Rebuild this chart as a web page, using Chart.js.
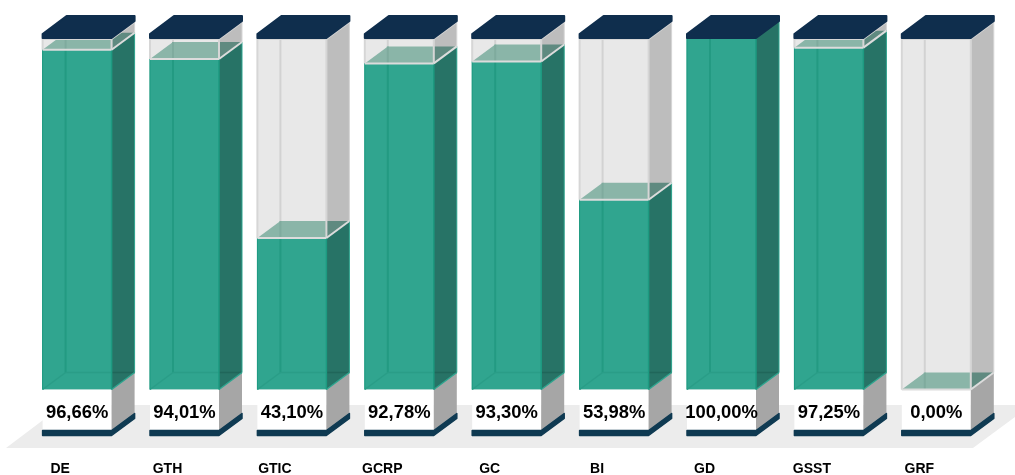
<!DOCTYPE html>
<html>
<head>
<meta charset="utf-8">
<style>
  html, body { margin: 0; padding: 0; background: #fff; }
  canvas { display: block; }
</style>
<script src="https://cdn.jsdelivr.net/npm/chart.js@4"></script>
</head>
<body>
<canvas id="graph" width="1015" height="475"></canvas>
<script>
const categories = ['DE', 'GTH', 'GTIC', 'GCRP', 'GC', 'BI', 'GD', 'GSST', 'GRF'];
const percentages = [96.66, 94.01, 43.10, 92.78, 93.30, 53.98, 100, 97.25, 0];
const fullTube = [100, 100, 100, 100, 100, 100, 100, 100, 100];

// depth of the fake 3d look
const dx = 23;
const dy = 17;

function poly(ctx, pts, fill) {
  ctx.beginPath();
  pts.forEach((p, i) => i ? ctx.lineTo(p[0], p[1]) : ctx.moveTo(p[0], p[1]));
  ctx.closePath();
  ctx.fillStyle = fill;
  ctx.fill();
}

function seg(ctx, x1, y1, x2, y2, color, w) {
  ctx.beginPath();
  ctx.moveTo(x1, y1);
  ctx.lineTo(x2, y2);
  ctx.strokeStyle = color;
  ctx.lineWidth = w;
  ctx.stroke();
}

const tubes3d = {
  id: 'tubes3d',
  // floor, base boxes and the back of the tubes
  beforeDatasetsDraw(chart) {
    const ctx = chart.ctx;
    const y = chart.scales.y;
    const y0 = y.getPixelForValue(0);
    const y100 = y.getPixelForValue(100);
    const bars = chart.getDatasetMeta(0).data;

    ctx.save();
    poly(ctx, [[6, 448], [63, 405], [1015, 405], [1015, 417], [973, 448]], '#ececec');

    bars.forEach(bar => {
      const x = bar.x - bar.width / 2;
      const r = x + bar.width;
      // base
      ctx.fillStyle = '#fff';
      ctx.fillRect(x, y0, bar.width, 41);
      poly(ctx, [[r, y0], [r + dx, y0 - dy], [r + dx, y0 + 25], [r, y0 + 42]], '#a6a6a6');
      // foot
      ctx.lineJoin = 'round';
      ctx.strokeStyle = '#0f3a52';
      ctx.lineWidth = 1.5;
      const foot = [[x, y0 + 41], [r, y0 + 41], [r + dx, y0 + 24], [r + dx, y0 + 29], [r, y0 + 46], [x, y0 + 46]];
      poly(ctx, foot, '#0f3a52');
      ctx.stroke();
      // side of the empty tube
      poly(ctx, [[r, y100], [r + dx, y100 - dy], [r + dx, y0 - dy], [r, y0]], '#bdbdbd');
    });
    ctx.restore();
  },
  // liquid surface, edges and cap
  afterDatasetsDraw(chart) {
    const ctx = chart.ctx;
    const y = chart.scales.y;
    const y0 = y.getPixelForValue(0);
    const y100 = y.getPixelForValue(100);
    const bars = chart.getDatasetMeta(0).data;

    ctx.save();
    bars.forEach((bar, i) => {
      const x = bar.x - bar.width / 2;
      const r = x + bar.width;
      const yv = y.getPixelForValue(percentages[i]);

      // empty tube back lines
      seg(ctx, x + dx, y100, x + dx, yv - dy, '#d2d2d2', 2);

      // liquid side
      poly(ctx, [[r, yv], [r + dx, yv - dy], [r + dx, y0 - dy], [r, y0]], '#277366');

      // liquid surface
      poly(ctx, [[x, yv], [x + dx, yv - dy], [r, yv - dy], [r, yv]], '#8ab5a8');
      poly(ctx, [[r, yv], [r + dx, yv - dy], [r, yv - dy]], '#5f8a80');
      seg(ctx, x + dx, yv - dy, x + dx, yv, '#7fab9e', 2);

      // tube edges over the empty part
      if (percentages[i] < 100) {
        seg(ctx, x, y100, x, yv, '#d6d6d6', 2);
        seg(ctx, r, y100, r, yv, '#d6d6d6', 2);
        seg(ctx, r + dx, y100 - dy, r + dx, yv - dy, '#d6d6d6', 1);
        seg(ctx, x, y100 + 1, r, y100 + 1, '#d6d6d6', 2);
        seg(ctx, r, y100 + 1, r + dx, y100 - dy + 1, '#d6d6d6', 2);
      }

      // liquid lines
      if (percentages[i] > 0) {
        seg(ctx, x + dx, yv, x + dx, y0 - dy, '#239a82', 2);
        seg(ctx, x, y0, x + dx, y0 - dy, '#2a9d87', 1.5);
        seg(ctx, x + dx, y0 - dy, r, y0 - dy, '#2a9d87', 1.5);
        seg(ctx, r, y0 - dy, r + dx, y0 - dy, '#20665a', 1.5);
        seg(ctx, r, y0, r + dx, y0 - dy, '#2fa58f', 1.5);
        seg(ctx, r, yv, r, y0, '#1d9a81', 1.5);
        seg(ctx, x, yv, x, y0, '#1d9a81', 1);
        seg(ctx, r + dx, yv - dy, r + dx, y0 - dy, '#2fa58f', 1);
      }

      // surface rim
      if (percentages[i] < 100) {
        seg(ctx, x, yv, r, yv, '#dcdcdc', 2);
        seg(ctx, r, yv, r + dx, yv - dy, '#dcdcdc', 2);
      }

      // cap
      ctx.lineJoin = 'round';
      ctx.strokeStyle = '#0f2e4d';
      ctx.lineWidth = 2;
      poly(ctx, [[x, y100 - 4], [x + dx + 1, y100 - 22], [r + dx, y100 - 22], [r + dx, y100 - dy], [r, y100], [x, y100]], '#0f2e4d');
      ctx.stroke();

      // value label
      ctx.fillStyle = '#000';
      ctx.font = 'bold 18.4px "Liberation Sans", Arial, sans-serif';
      ctx.textAlign = 'center';
      ctx.textBaseline = 'middle';
      ctx.fillText(percentages[i].toFixed(2).replace('.', ',') + '%', bar.x, y0 + 23.5);
    });
    ctx.restore();
  }
};

new Chart(document.getElementById('graph'), {
  type: 'bar',
  data: {
    labels: categories,
    datasets: [{
      label: 'valeur',
      data: percentages,
      backgroundColor: '#30a58f',
      barThickness: 69,
      grouped: false
    },
    {
      label: 'tube',
      data: fullTube,
      backgroundColor: '#e8e8e8',
      barThickness: 69,
      grouped: false
    }]
  },
  plugins: [tubes3d],
  options: {
    responsive: false,
    animation: false,
    layout: { padding: { left: 23.4, right: 25, top: 38, bottom: 0 } },
    plugins: { legend: { display: false }, tooltip: { enabled: false } },
    scales: {
      x: {
        // no extra room for the labels, bars must keep their pitch
        afterFit(scale) {
          scale.height = 85.5;
          scale.paddingLeft = 0;
          scale.paddingRight = 0;
        },
        grid: { display: false, drawTicks: false },
        border: { display: false },
        ticks: {
          color: '#000',
          padding: 71.5,
          labelOffset: -17,
          maxRotation: 0,
          autoSkip: false,
          font: { family: '"Liberation Sans", Arial, sans-serif', size: 14, weight: 'bold' }
        }
      },
      y: { display: false, min: 0, max: 100 }
    }
  }
});
</script>
</body>
</html>
